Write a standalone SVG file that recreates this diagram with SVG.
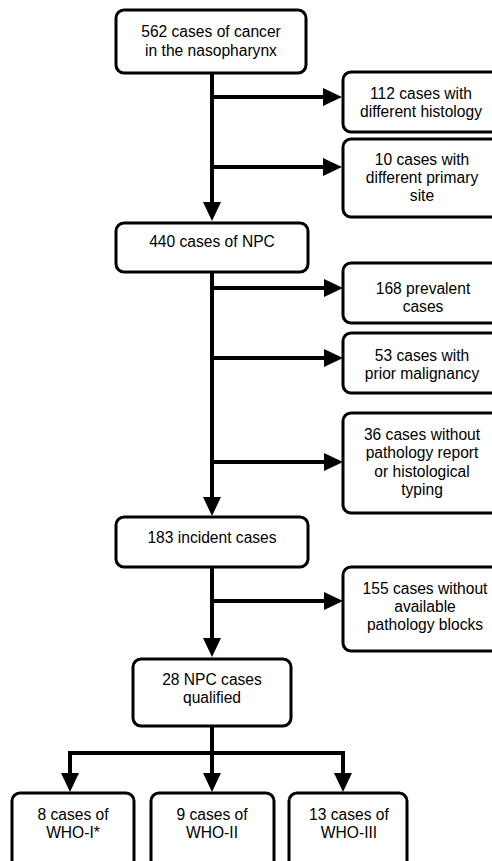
<svg xmlns="http://www.w3.org/2000/svg" width="492" height="861" viewBox="0 0 492 861">
<style>
.box{fill:#fff;stroke:#000;stroke-width:3}
.t{font-family:"Liberation Sans",Arial,sans-serif;font-size:15.6px;fill:#000;text-anchor:middle}
.c{stroke:#000;stroke-width:4;fill:none}
</style>
<defs>
<marker id="ah" viewBox="0 -9 19 18" markerWidth="19" markerHeight="18" refX="0" refY="0" orient="auto" markerUnits="userSpaceOnUse">
<path d="M0,-9 L19,0 L0,9 z" fill="#000"/>
</marker>
</defs>
<rect width="492" height="861" fill="#fff"/>
<g id="connectors">
<line class="c" x1="212" y1="73" x2="212" y2="202" marker-end="url(#ah)"/>
<line class="c" x1="210" y1="97" x2="323" y2="97" marker-end="url(#ah)"/>
<line class="c" x1="210" y1="167" x2="323" y2="167" marker-end="url(#ah)"/>
<line class="c" x1="212" y1="272" x2="212" y2="497" marker-end="url(#ah)"/>
<line class="c" x1="210" y1="288" x2="324" y2="288" marker-end="url(#ah)"/>
<line class="c" x1="210" y1="358" x2="324" y2="358" marker-end="url(#ah)"/>
<line class="c" x1="210" y1="462" x2="324" y2="462" marker-end="url(#ah)"/>
<line class="c" x1="212" y1="567" x2="212" y2="638" marker-end="url(#ah)"/>
<line class="c" x1="210" y1="601" x2="324" y2="601" marker-end="url(#ah)"/>
<line class="c" x1="212" y1="726" x2="212" y2="753"/>
<line class="c" x1="68" y1="753" x2="345" y2="753"/>
<line class="c" x1="70" y1="751" x2="70" y2="773" marker-end="url(#ah)"/>
<line class="c" x1="212" y1="751" x2="212" y2="773" marker-end="url(#ah)"/>
<line class="c" x1="343" y1="751" x2="343" y2="773" marker-end="url(#ah)"/>
</g>
<g id="n1"><rect class="box" x="116" y="10" width="190" height="63" rx="8"/><text class="t" x="211" y="37">562 cases of cancer</text><text class="t" x="211" y="56">in the nasopharynx</text></g>
<g id="n2"><rect class="box" x="343" y="72" width="156" height="60" rx="8"/><text class="t" x="421" y="99">112 cases with</text><text class="t" x="421" y="117">different histology</text></g>
<g id="n3"><rect class="box" x="343" y="139" width="156" height="78" rx="8"/><text class="t" x="422" y="165">10 cases with</text><text class="t" x="422" y="183">different primary</text><text class="t" x="422" y="201">site</text></g>
<g id="n4"><rect class="box" x="116" y="223" width="192" height="49" rx="8"/><text class="t" x="212" y="247">440 cases of NPC</text></g>
<g id="n5"><rect class="box" x="343" y="263" width="156" height="60" rx="8"/><text class="t" x="423" y="294">168 prevalent</text><text class="t" x="423" y="312">cases</text></g>
<g id="n6"><rect class="box" x="343" y="333" width="156" height="60" rx="8"/><text class="t" x="422" y="361">53 cases with</text><text class="t" x="422" y="379">prior malignancy</text></g>
<g id="n7"><rect class="box" x="343" y="413" width="156" height="100" rx="8"/><text class="t" x="422" y="440">36 cases without</text><text class="t" x="422" y="458">pathology report</text><text class="t" x="422" y="477">or histological</text><text class="t" x="422" y="495">typing</text></g>
<g id="n8"><rect class="box" x="116" y="517" width="192" height="50" rx="8"/><text class="t" x="212" y="543">183 incident cases</text></g>
<g id="n9"><rect class="box" x="343" y="567" width="156" height="84" rx="8"/><text class="t" x="425" y="594">155 cases without</text><text class="t" x="425" y="612">available</text><text class="t" x="425" y="630">pathology blocks</text></g>
<g id="n10"><rect class="box" x="133" y="659" width="158" height="67" rx="8"/><text class="t" x="212" y="685">28 NPC cases</text><text class="t" x="212" y="703">qualified</text></g>
<g id="n11"><rect class="box" x="12" y="793" width="122" height="80" rx="8"/><text class="t" x="73" y="820">8 cases of</text><text class="t" x="73" y="838">WHO-I*</text></g>
<g id="n12"><rect class="box" x="151" y="793" width="123" height="80" rx="8"/><text class="t" x="212" y="820">9 cases of</text><text class="t" x="212" y="838">WHO-II</text></g>
<g id="n13"><rect class="box" x="289" y="793" width="118" height="80" rx="8"/><text class="t" x="349" y="820">13 cases of</text><text class="t" x="349" y="838">WHO-III</text></g>
</svg>
